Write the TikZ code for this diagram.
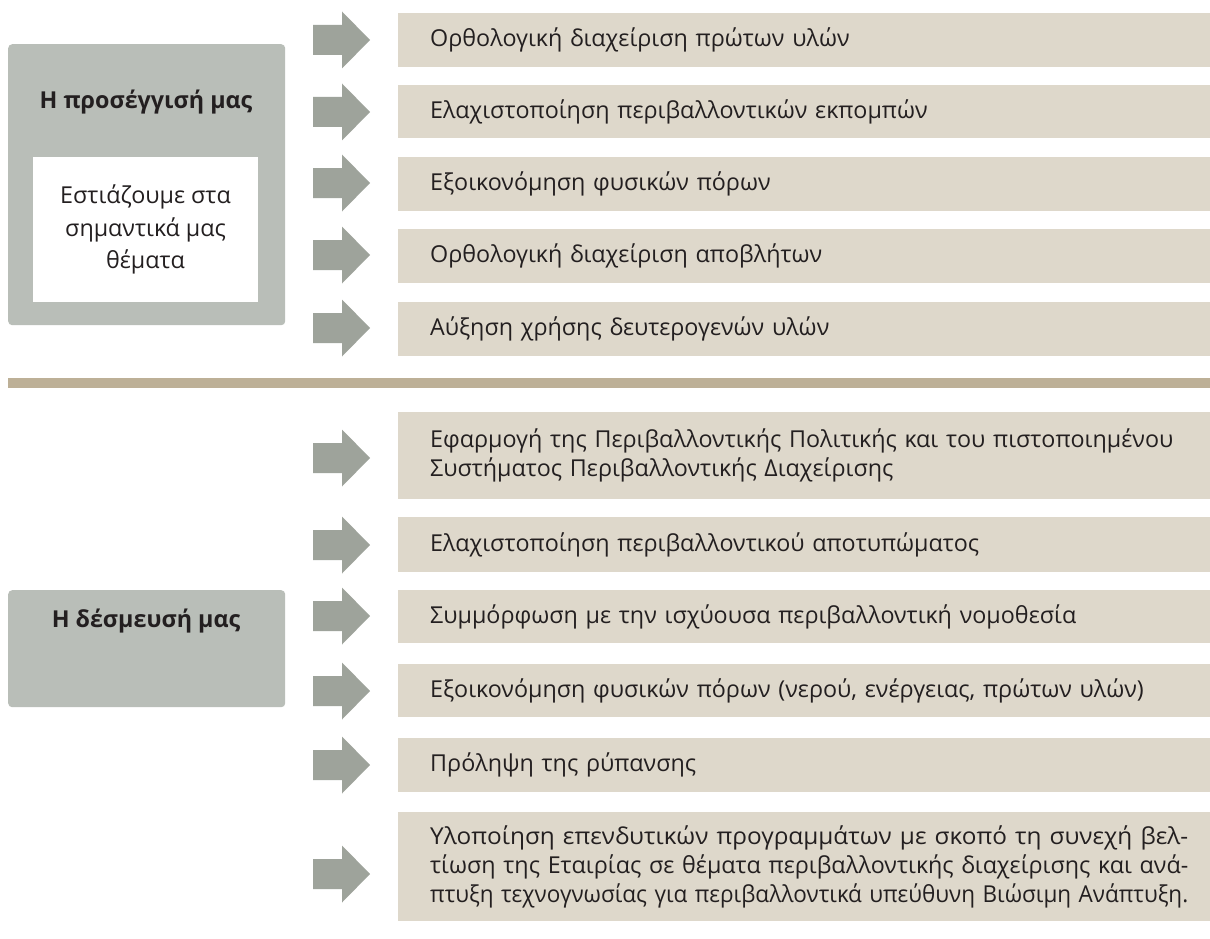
\documentclass[tikz,border=0pt]{standalone}
\usepackage{graphicx}
\usepackage{fontspec}
\setmainfont{Open Sans}
\definecolor{boxgray}{HTML}{B9BEB8}
\definecolor{arrgray}{HTML}{9EA39B}
\definecolor{barbeige}{HTML}{DED8CB}
\definecolor{sepline}{HTML}{BDB097}
\definecolor{txt}{HTML}{231F20}
\newcommand\jline[1]{\resizebox{758pt}{\height}{#1}}
\begin{document}
\begin{tikzpicture}[x=1pt,y=-1pt,
  every node/.style={text=txt},
  bartext/.style={font=\fontsize{23.3}{29}\selectfont},
  bar/.style={fill=barbeige, draw=none, anchor=west, minimum width=812pt,
    text width=748pt, inner xsep=32pt, inner ysep=0pt, align=left, bartext},
  lbox/.style={fill=boxgray, draw=none, rounded corners=4pt, anchor=north west, inner sep=0pt},
  ltitle/.style={font=\fontsize{23.3}{28}\selectfont\bfseries},
  garrow/.pic={\fill[arrgray] (0,-15) -- (29,-15) -- (29,-28.5) -- (57,0) -- (29,28.5) -- (29,15) -- (0,15) -- cycle;}
]
\useasboundingbox (0,0) rectangle (1210,939);
\fill[white] (0,0) rectangle (1210,939);

% top left box
\node[lbox, minimum width=277pt, minimum height=281pt] (L1) at (8,44) {};
\node[ltitle] (L1t) at (146,102) {Η προσέγγισή μας};
\node[fill=white, minimum width=225pt, minimum height=145pt, inner sep=0pt,
  align=center, font=\fontsize{23.3}{32.5}\selectfont] (L1i) at (145.5,229.5)
  {Εστιάζουμε στα\\σημαντικά μας\\θέματα};

% top bars
\node[bar, minimum height=54pt] (t1) at (398,40) {Ορθολογική διαχείριση πρώτων υλών};
\node[bar, minimum height=53pt] (t2) at (398,111.5) {Ελαχιστοποίηση περιβαλλοντικών εκπομπών};
\node[bar, minimum height=54pt] (t3) at (398,184) {Εξοικονόμηση φυσικών πόρων};
\node[bar, minimum height=54pt] (t4) at (398,256) {Ορθολογική διαχείριση αποβλήτων};
\node[bar, minimum height=54pt] (t5) at (398,329) {Αύξηση χρήσης δευτερογενών υλών};

\foreach \yy in {40,112,183,255,328} \pic at (313,\yy) {garrow};

% separator
\fill[sepline] (8,378) rectangle (1210,388);

% bottom left box
\node[lbox, minimum width=277pt, minimum height=117pt] (L2) at (8,590) {};
\node[ltitle] (L2t) at (146,621) {Η δέσμευσή μας};

% bottom bars
\node[bar, minimum height=87pt] (b1) at (398,455.5)
  {Εφαρμογή της Περιβαλλοντικής Πολιτικής και του πιστοποιημένου\\Συστήματος Περιβαλλοντικής Διαχείρισης};
\node[bar, minimum height=55pt] (b2) at (398,544.5) {Ελαχιστοποίηση περιβαλλοντικού αποτυπώματος};
\node[bar, minimum height=53pt] (b3) at (398,616.5) {Συμμόρφωση με την ισχύουσα περιβαλλοντική νομοθεσία};
\node[bar, minimum height=53pt] (b4) at (398,690.5) {Εξοικονόμηση φυσικών πόρων (νερού, ενέργειας, πρώτων υλών)};
\node[bar, minimum height=54pt] (b5) at (398,765) {Πρόληψη της ρύπανσης};
\node[bar, minimum height=109pt] (b6) at (398,866.5)
  {\jline{Υλοποίηση επενδυτικών προγραμμάτων με σκοπό τη συνεχή βελ-}\\
   \jline{τίωση της Εταιρίας σε θέματα περιβαλλοντικής διαχείρισης και ανά-}\\
   \jline{πτυξη τεχνογνωσίας για περιβαλλοντικά υπεύθυνη Βιώσιμη Ανάπτυξη.}};

\foreach \yy in {458,545,616,691,765,874} \pic at (313,\yy) {garrow};
\end{tikzpicture}
\end{document}
